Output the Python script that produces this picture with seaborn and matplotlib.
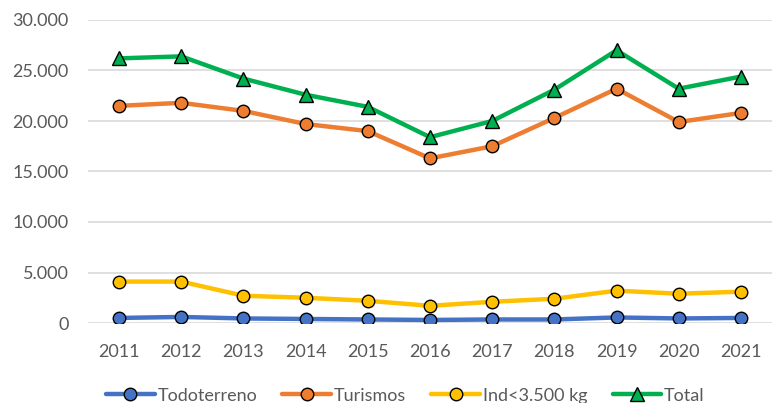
import pandas as pd
import matplotlib.pyplot as plt
import seaborn as sns

# %%
years = [2011, 2012, 2013, 2014, 2015, 2016, 2017, 2018, 2019, 2020, 2021]
todoterreno = [500, 600, 450, 400, 350, 300, 350, 350, 550, 450, 500]
turismos = [21500, 21800, 21000, 19700, 19000, 16300, 17500, 20300, 23200, 19900, 20800]
ind_lt_3500 = [4100, 4100, 2700, 2500, 2200, 1700, 2100, 2400, 3200, 2900, 3100]
total = [26200, 26400, 24200, 22600, 21400, 18400, 20000, 23100, 27000, 23200, 24400]

series_names = ["Todoterreno", "Turismos", "Ind<3.500 kg", "Total"]
series_values = [todoterreno, turismos, ind_lt_3500, total]
colors = ["#4472C4", "#ED7D31", "#FFC000", "#00B050"]
markers = ["o", "o", "o", "^"]

# %%
sns.set_style("white")
plt.rcParams["font.family"] = ["Lato", "DejaVu Sans"]

fig = plt.figure(figsize=(7.72, 4.03), dpi=100)
ax = fig.add_axes([88 / 772, (403 - 323) / 403, 1 - 88 / 772, (323 - 20) / 403])

for name, vals, c, m in zip(series_names, series_values, colors, markers):
    df = pd.DataFrame({"year": years, "value": vals})
    sns.lineplot(data=df, x="year", y="value", ax=ax, color=c, linewidth=3.2,
                 marker=m, markersize=9 if m == "o" else 9.5,
                 markeredgecolor="black", markeredgewidth=1.0,
                 markerfacecolor=c, label=name)

ax.set_xlim(2010.5, 2021.5)
ax.set_ylim(0, 30000)
ax.set_yticks(range(0, 30001, 5000))
ax.set_yticklabels([f"{v:,}".replace(",", ".") for v in range(0, 30001, 5000)])
ax.set_xticks(years)
ax.grid(axis="y", color="#d9d9d9", linewidth=1.2)
ax.set_axisbelow(True)
for s in ax.spines.values():
    s.set_visible(False)
ax.tick_params(axis="both", length=0, labelsize=13, labelcolor="#595959")
ax.tick_params(axis="x", pad=15)
ax.tick_params(axis="y", pad=14)
ax.set_xlabel("")
ax.set_ylabel("")

handles, labels = ax.get_legend_handles_labels()
ax.get_legend().remove()
fig.legend(handles, labels, loc="center", bbox_to_anchor=(0.525, 0.018), ncol=4,
           frameon=False, fontsize=13, labelcolor="#595959", handlelength=2.7,
           handletextpad=0.15, columnspacing=1.4)

fig.savefig("out.png", dpi=100)
